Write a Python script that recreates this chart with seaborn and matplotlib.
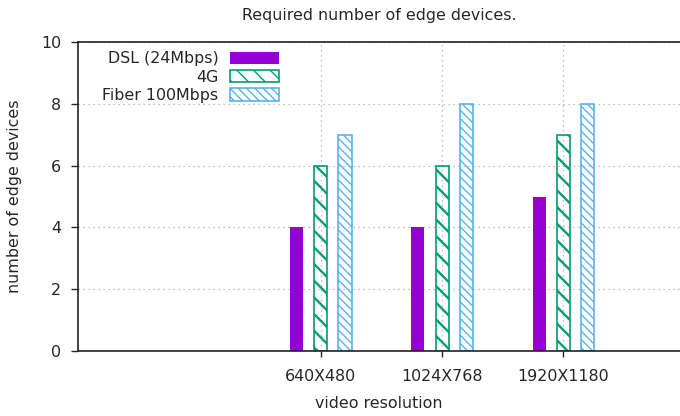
import numpy as np
import pandas as pd
import matplotlib
matplotlib.use("Agg")
import matplotlib.pyplot as plt
import seaborn as sns

# data
resolutions = ["640X480", "1024X768", "1920X1180"]
networks = ["DSL (24Mbps)", "4G", "Fiber 100Mbps"]
dsl = [4, 4, 5]
g4 = [6, 6, 7]
fiber = [7, 8, 8]

colors = ["#9400d3", "#009e73", "#56b4e9"]
hatches = [None, "\\\\", "\\\\\\\\"]
hatch_lw = [1.0, 1.7, 1.0]

df = pd.DataFrame({
    "resolution": resolutions * 3,
    "network": [networks[0]] * 3 + [networks[1]] * 3 + [networks[2]] * 3,
    "devices": dsl + g4 + fiber,
})

sns.set_style("white")
plt.rcParams["font.family"] = ["DejaVu Sans"]
plt.rcParams["font.size"] = 11.4

fig, ax = plt.subplots(figsize=(6.8, 4.16), dpi=100)
fig.subplots_adjust(left=0.1147, right=1.0, bottom=0.156, top=0.899)

sns.barplot(data=df, x="resolution", y="devices", hue="network",
            order=resolutions, hue_order=networks, palette=colors,
            width=0.6, gap=0.46, saturation=1, legend=False, ax=ax)

for i, cont in enumerate(ax.containers):
    for bar in cont:
        if i == 0:
            bar.set_edgecolor("none")
        else:
            bar.set_facecolor("none")
            bar.set_edgecolor(colors[i])
            bar.set_linewidth(1.2)
            bar.set_hatch(hatches[i])
            if hasattr(bar, "set_hatch_linewidth"):
                bar.set_hatch_linewidth(hatch_lw[i])

leg = ax.legend([c[0] for c in ax.containers], networks,
                loc="upper left", bbox_to_anchor=(0.03, 0.99),
                frameon=False, markerfirst=False,
                handlelength=3.1, handleheight=0.85, handletextpad=0.7,
                labelspacing=0.2, borderaxespad=0)

ax.set_xlim(-2, 2.96)
ax.set_ylim(0, 10)
ax.set_yticks(np.arange(0, 11, 2))
ax.set_axisbelow(True)
ax.grid(True, axis="both", linestyle=(0, (1, 3)), color="#aaaaaa", lw=0.9)

for s in ["left", "top", "bottom"]:
    ax.spines[s].set_color("#222222")
    ax.spines[s].set_linewidth(1.2)
ax.spines["right"].set_visible(False)

ax.tick_params(axis="x", direction="out", length=4, width=1, pad=9, bottom=True)
ax.tick_params(axis="y", direction="out", length=5, width=1, pad=7, left=True)

ax.set_title("Required number of edge devices.", pad=16, fontsize=11.4)
ax.set_xlabel("video resolution", labelpad=8.5)
ax.set_ylabel("number of edge devices", labelpad=14)

fig.savefig("out.png", dpi=100)
